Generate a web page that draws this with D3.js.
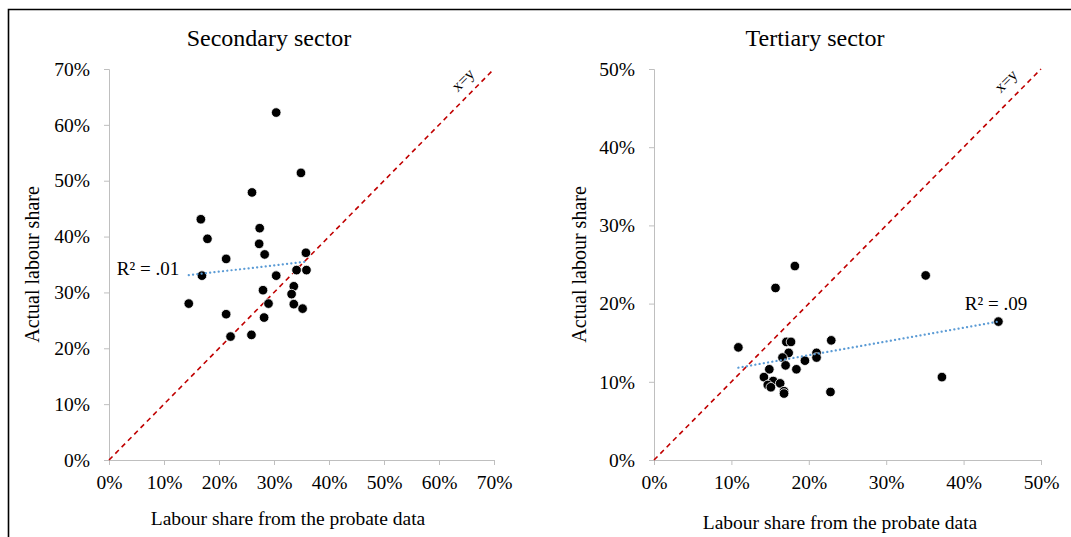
<!DOCTYPE html>
<html>
<head>
<meta charset="utf-8">
<script src="https://cdn.jsdelivr.net/npm/d3@7"></script>
<style>
  body { margin: 0; background: #fff; }
  svg text { font-family: "Liberation Serif", "Times New Roman", serif; fill: #000; }
</style>
</head>
<body>
<div id="wrapper"></div>
<script>
// Secondary sector: [probate share, actual share]
const secondaryProbate = [0.304, 0.349, 0.260, 0.167, 0.179, 0.274, 0.273, 0.283, 0.213, 0.358, 0.359, 0.341, 0.169, 0.304, 0.336, 0.332, 0.280, 0.145, 0.290, 0.336, 0.352, 0.213, 0.282, 0.221, 0.259]
const secondaryActual  = [0.622, 0.514, 0.479, 0.431, 0.396, 0.415, 0.387, 0.368, 0.360, 0.371, 0.340, 0.340, 0.330, 0.330, 0.311, 0.297, 0.304, 0.280, 0.280, 0.279, 0.271, 0.261, 0.255, 0.221, 0.224]
const secondaryTrend = [[0.145, 0.331], [0.359, 0.355]]

// Tertiary sector
const tertiaryProbate = [0.182, 0.157, 0.109, 0.229, 0.171, 0.177, 0.174, 0.210, 0.210, 0.166, 0.195, 0.170, 0.184, 0.149, 0.142, 0.154, 0.163, 0.147, 0.151, 0.168, 0.168, 0.228, 0.351, 0.445, 0.372]
const tertiaryActual  = [0.248, 0.220, 0.144, 0.153, 0.151, 0.151, 0.137, 0.137, 0.131, 0.131, 0.127, 0.121, 0.116, 0.116, 0.106, 0.101, 0.098, 0.096, 0.093, 0.088, 0.085, 0.087, 0.236, 0.177, 0.106]
const tertiaryTrend = [[0.109, 0.118], [0.445, 0.177]]

const secondaryTicks = [0, 0.1, 0.2, 0.3, 0.4, 0.5, 0.6, 0.7]
const tertiaryTicks = [0, 0.1, 0.2, 0.3, 0.4, 0.5]

const panels = [
  { title: 'Secondary sector', xs: secondaryProbate, ys: secondaryActual, trend: secondaryTrend,
    ticks: secondaryTicks, max: 0.7, left: 109, width: 385, r2: 'R² = .01', r2pos: [148, 275],
    xyPos: [464, 81], titleX: 269, yTitleX: 39, xTitleX: 288, xTitleY: 525 },
  { title: 'Tertiary sector', xs: tertiaryProbate, ys: tertiaryActual, trend: tertiaryTrend,
    ticks: tertiaryTicks, max: 0.5, left: 654, width: 387, r2: 'R² = .09', r2pos: [996, 310],
    xyPos: [1007, 82], titleX: 815, yTitleX: 586, xTitleX: 840, xTitleY: 529 }
]

const dimensions = { width: 1071, height: 537, top: 69, boundedHeight: 391 }

const svg = d3.select('#wrapper')
  .append('svg')
    .attr('width', dimensions.width)
    .attr('height', dimensions.height)

// outer frame (only left and top edges visible)
svg.append('path')
  .attr('d', `M8.5,${dimensions.height} L8.5,9.5 L${dimensions.width},9.5`)
  .attr('fill', 'none')
  .attr('stroke', '#000')
  .attr('stroke-width', 1.6)

const pct = d3.format('.0%')

panels.forEach(p => {
  const xScale = d3.scaleLinear().domain([0, p.max]).range([p.left, p.left + p.width])
  const yScale = d3.scaleLinear().domain([0, p.max]).range([dimensions.top + dimensions.boundedHeight, dimensions.top])

  // axes
  const xAxis = svg.append('g')
    .attr('transform', `translate(0,${yScale(0)})`)
    .call(d3.axisBottom(xScale).tickValues(p.ticks).tickFormat(pct).tickSizeOuter(0).tickSize(5).tickPadding(10))
  const yAxis = svg.append('g')
    .attr('transform', `translate(${p.left},0)`)
    .call(d3.axisLeft(yScale).tickValues(p.ticks).tickFormat(pct).tickSizeOuter(0).tickSize(5).tickPadding(14))

  ;[xAxis, yAxis].forEach(a => {
    a.select('.domain').attr('stroke', '#bfbfbf')
    a.selectAll('.tick line').attr('stroke', '#bfbfbf')
    a.selectAll('.tick text')
      .style('font-family', '"Liberation Serif", serif')
      .style('font-size', '19.5px')
      .attr('fill', '#000')
  })

  // x = y line
  svg.append('line')
    .attr('x1', xScale(0)).attr('y1', yScale(0))
    .attr('x2', xScale(p.max)).attr('y2', yScale(p.max))
    .attr('stroke', '#c00000')
    .attr('stroke-width', 1.6)
    .attr('stroke-dasharray', '5,4')

  svg.append('text')
    .attr('transform', `translate(${p.xyPos[0]},${p.xyPos[1]}) rotate(-45)`)
    .attr('text-anchor', 'middle')
    .attr('dominant-baseline', 'middle')
    .style('font-size', '16px')
    .text('x=y')

  // dots
  const data = p.xs.map((x, i) => ({ x, y: p.ys[i] }))
  svg.append('g').selectAll('circle')
    .data(data)
    .enter().append('circle')
      .attr('cx', d => xScale(d.x))
      .attr('cy', d => yScale(d.y))
      .attr('r', 4.8)
      .attr('fill', '#000')
      .attr('stroke', '#fff')
      .attr('stroke-width', 0.8)

  // trendline
  svg.append('line')
    .attr('x1', xScale(p.trend[0][0])).attr('y1', yScale(p.trend[0][1]))
    .attr('x2', xScale(p.trend[1][0])).attr('y2', yScale(p.trend[1][1]))
    .attr('stroke', '#5b9bd5')
    .attr('stroke-width', 2.2)
    .attr('stroke-dasharray', '0.1,4.2')
    .attr('stroke-linecap', 'round')

  svg.append('text')
    .attr('x', p.r2pos[0]).attr('y', p.r2pos[1])
    .attr('text-anchor', 'middle')
    .style('font-size', '19px')
    .text(p.r2)

  // titles
  svg.append('text')
    .attr('x', p.titleX).attr('y', 46)
    .attr('text-anchor', 'middle')
    .style('font-size', '24px')
    .text(p.title)

  svg.append('text')
    .attr('x', p.xTitleX).attr('y', p.xTitleY)
    .attr('text-anchor', 'middle')
    .style('font-size', '19.5px')
    .text('Labour share from the probate data')

  svg.append('text')
    .attr('transform', `translate(${p.yTitleX},${dimensions.top + dimensions.boundedHeight / 2}) rotate(-90)`)
    .attr('text-anchor', 'middle')
    .style('font-size', '20px')
    .text('Actual labour share')
})
</script>
</body>
</html>
